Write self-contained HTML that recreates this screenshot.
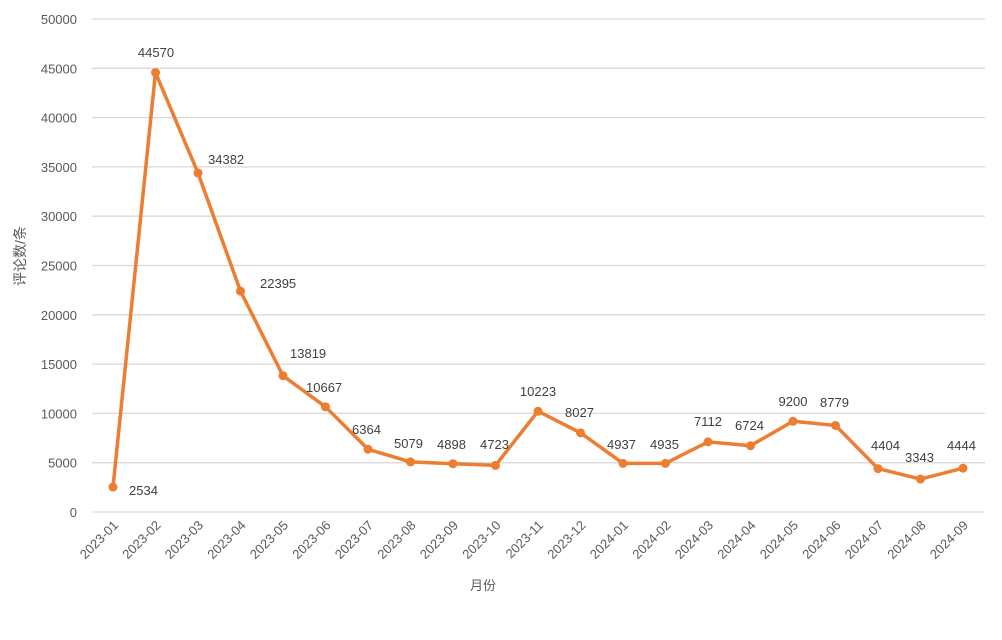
<!DOCTYPE html>
<html><head><meta charset="utf-8"><style>
html,body{margin:0;padding:0;background:#fff;width:1002px;height:640px;overflow:hidden}
text{font-family:"Liberation Sans","Noto Sans CJK SC",sans-serif}
</style></head><body>
<svg id="s" width="1002" height="640" xmlns="http://www.w3.org/2000/svg">
<g id="grid" stroke="#d9d9d9" stroke-width="1.3"></g>
<g id="yt" font-size="13" fill="#595959" text-anchor="end"></g>
<g id="xt" font-size="13" fill="#595959" text-anchor="end"></g>
<polyline id="ln" fill="none" stroke="#ed7d31" stroke-width="3.5" stroke-linejoin="round"/>
<g id="pts" fill="#ed7d31"></g>
<g id="lb" font-size="13" fill="#404040"></g>
<text x="483" y="590" font-size="13" fill="#595959" text-anchor="middle">月份</text>
<text transform="translate(25,256) rotate(-90)" font-size="14" fill="#595959" text-anchor="middle">评论数/条</text>
</svg>
<script>
var N="http://www.w3.org/2000/svg";
function el(p,t,a,tx){var e=document.createElementNS(N,t);for(var k in a)e.setAttribute(k,a[k]);if(tx!=null)e.textContent=tx;document.getElementById(p).appendChild(e);}
function Y(v){return 512-v*493/50000;}
function X(i){return 113+42.5*i;}
for(var v=0;v<=50000;v+=5000){var y=Y(v);el('grid','line',{x1:92,x2:985,y1:y,y2:y});el('yt','text',{x:77,y:y+5},v);}
var d=[2534,44570,34382,22395,13819,10667,6364,5079,4898,4723,10223,8027,4937,4935,7112,6724,9200,8779,4404,3343,4444];
var m=[];for(var a=2023;a<=2024;a++)for(var b=1;b<=12;b++)m.push(a+'-'+(b<10?'0':'')+b);
var pts=[];
d.forEach(function(v,i){pts.push(X(i)+','+Y(v));el('pts','circle',{cx:X(i),cy:Y(v),r:4.5});
el('xt','text',{transform:'translate('+(X(i)+6)+',526) rotate(-45)'},m[i]);});
document.getElementById('ln').setAttribute('points',pts.join(' '));
var L=[[129,495,'s'],[156,57,'m'],[208,164,'s'],[260,288,'s'],[290,358,'s'],[306,392,'s'],[352,434,'s'],[394,448,'s'],[437,449,'s'],[480,449,'s'],[538,396,'m'],[565,417,'s'],[607,449,'s'],[650,449,'s'],[708,426,'m'],[735,430,'s'],[793,406,'m'],[820,407,'s'],[871,450,'s'],[905,462,'s'],[947,450,'s']];
L.forEach(function(l,i){el('lb','text',{x:l[0],y:l[1],'text-anchor':l[2]=='m'?'middle':'start'},d[i]);});
</script>
</body></html>
